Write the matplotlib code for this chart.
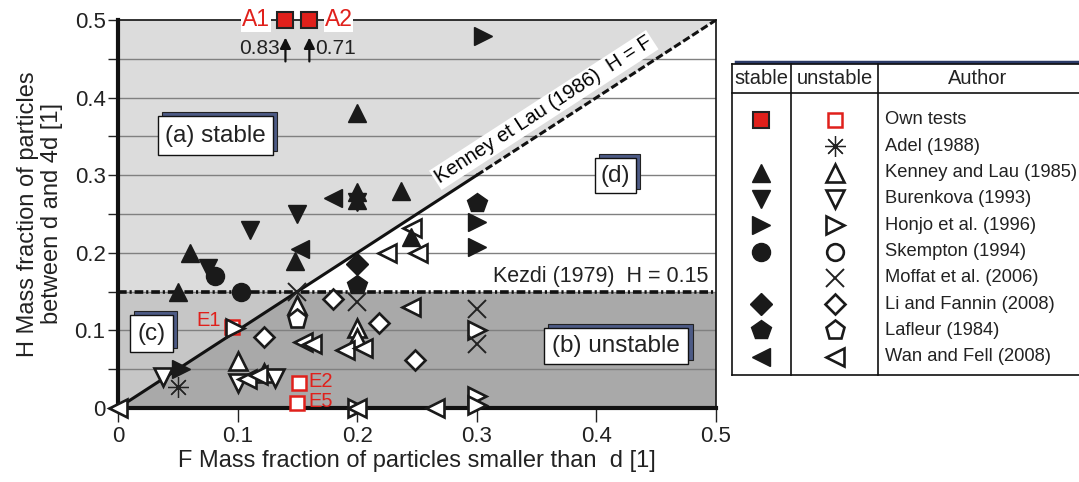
import numpy as np
import matplotlib
matplotlib.use("Agg")
import matplotlib.pyplot as plt
from matplotlib.patches import Rectangle, Polygon

plt.rcParams['font.family'] = ['Liberation Sans', 'DejaVu Sans']

# ---- data (F, H) ----
own_stable_F = [0.14, 0.16]
own_stable_H = [0.83, 0.71]          # off the scale, drawn at the top edge
own_unstable_F = [0.095, 0.151, 0.150]
own_unstable_H = [0.105, 0.032, 0.006]
own_unstable_names = ["E1", "E2", "E5"]

adel_unstable_F = [0.05]
adel_unstable_H = [0.027]

kenney_stable_F = [0.20, 0.237, 0.06, 0.05, 0.148, 0.20, 0.20, 0.245]
kenney_stable_H = [0.38, 0.28, 0.20, 0.15, 0.19, 0.278, 0.268, 0.22]
kenney_unstable_F = [0.10, 0.15, 0.20, 0.20, 0.122]
kenney_unstable_H = [0.06, 0.133, 0.103, 0.09, 0.045]

burenkova_stable_F = [0.15, 0.11, 0.075, 0.20]
burenkova_stable_H = [0.25, 0.23, 0.18, 0.265]
burenkova_unstable_F = [0.038, 0.10, 0.131]
burenkova_unstable_H = [0.04, 0.032, 0.039]

honjo_stable_F = [0.305, 0.30, 0.30, 0.053]
honjo_stable_H = [0.48, 0.24, 0.207, 0.05]
honjo_unstable_F = [0.098, 0.30, 0.30, 0.30, 0.20]
honjo_unstable_H = [0.103, 0.10, 0.016, 0.004, 0.0]

skempton_stable_F = [0.081, 0.103]
skempton_stable_H = [0.17, 0.149]
skempton_unstable_F = []
skempton_unstable_H = []

moffat_unstable_F = [0.15, 0.20, 0.30, 0.30]
moffat_unstable_H = [0.15, 0.137, 0.128, 0.083]

li_stable_F = [0.20]
li_stable_H = [0.185]
li_unstable_F = [0.122, 0.18, 0.218, 0.248]
li_unstable_H = [0.092, 0.14, 0.11, 0.062]

lafleur_stable_F = [0.20, 0.30]
lafleur_stable_H = [0.158, 0.264]
lafleur_unstable_F = [0.15]
lafleur_unstable_H = [0.115]

wan_stable_F = [0.18, 0.152]
wan_stable_H = [0.27, 0.205]
wan_unstable_F = [0.0, 0.108, 0.117, 0.155, 0.162, 0.19, 0.205, 0.245,
                  0.20, 0.265, 0.225, 0.246, 0.251]
wan_unstable_H = [0.0, 0.038, 0.042, 0.085, 0.082, 0.075, 0.077, 0.13,
                  0.0, 0.0, 0.20, 0.232, 0.20]

authors = ["Own tests", "Adel (1988)", "Kenney and Lau (1985)", "Burenkova (1993)",
           "Honjo et al. (1996)", "Skempton (1994)", "Moffat et al. (2006)",
           "Li and Fannin (2008)", "Lafleur (1984)", "Wan and Fell (2008)"]

h_kezdi = 0.15
tick_vals = [0, 0.1, 0.2, 0.3, 0.4, 0.5]
tick_labels = ["0", "0.1", "0.2", "0.3", "0.4", "0.5"]

RED = "#e0201b"

markers = {
    "Own tests": ("s", 10.5),
    "Adel (1988)": ((8, 2, 0), 15),
    "Kenney and Lau (1985)": ("^", 13.5),
    "Burenkova (1993)": ("v", 13.5),
    "Honjo et al. (1996)": (">", 13.5),
    "Skempton (1994)": ("o", 13),
    "Moffat et al. (2006)": ("x", 13),
    "Li and Fannin (2008)": ("D", 11),
    "Lafleur (1984)": ("p", 15),
    "Wan and Fell (2008)": ("<", 13.5),
}

series = {
    "Own tests": (None, None, own_unstable_F, own_unstable_H),
    "Adel (1988)": (None, None, adel_unstable_F, adel_unstable_H),
    "Kenney and Lau (1985)": (kenney_stable_F, kenney_stable_H, kenney_unstable_F, kenney_unstable_H),
    "Burenkova (1993)": (burenkova_stable_F, burenkova_stable_H, burenkova_unstable_F, burenkova_unstable_H),
    "Honjo et al. (1996)": (honjo_stable_F, honjo_stable_H, honjo_unstable_F, honjo_unstable_H),
    "Skempton (1994)": (skempton_stable_F, skempton_stable_H, skempton_unstable_F, skempton_unstable_H),
    "Moffat et al. (2006)": (None, None, moffat_unstable_F, moffat_unstable_H),
    "Li and Fannin (2008)": (li_stable_F, li_stable_H, li_unstable_F, li_unstable_H),
    "Lafleur (1984)": (lafleur_stable_F, lafleur_stable_H, lafleur_unstable_F, lafleur_unstable_H),
    "Wan and Fell (2008)": (wan_stable_F, wan_stable_H, wan_unstable_F, wan_unstable_H),
}


def style(author, stable):
    m, ms = markers[author]
    if author == "Own tests":
        if stable:
            return dict(marker=m, ms=ms + 1, mfc=RED, mec="#222222", mew=1.5, ls="none")
        return dict(marker=m, ms=ms, mfc="white", mec=RED, mew=1.8, ls="none")
    if m in ("x",) or isinstance(m, tuple):
        return dict(marker=m, ms=ms, mec="#222222", mew=1.4 if m == "x" else 0.9, ls="none")
    if stable:
        return dict(marker=m, ms=ms, mfc="#1a1a1a", mec="#1a1a1a", mew=1, ls="none")
    return dict(marker=m, ms=ms - 1, mfc="white", mec="#1a1a1a", mew=1.9, ls="none")


fig = plt.figure(figsize=(10.79, 4.82), dpi=100)
ax = fig.add_axes([118 / 1079, 1 - 408 / 482, 598 / 1079, 388 / 482])
ax.set_xlim(0, 0.5)
ax.set_ylim(0, 0.5)

# regions
ax.add_patch(Polygon([(0, h_kezdi), (h_kezdi, h_kezdi), (0.5, 0.5), (0, 0.5)],
                     fc="#dcdcdc", ec="none", zorder=0))
ax.add_patch(Polygon([(0, 0), (h_kezdi, h_kezdi), (0, h_kezdi)],
                     fc="#c6c6c6", ec="none", zorder=0))
ax.add_patch(Polygon([(0, 0), (0.5, 0), (0.5, h_kezdi), (h_kezdi, h_kezdi)],
                     fc="#a9a9a9", ec="none", zorder=0))
for yg in np.arange(0.05, 0.49, 0.05):
    ax.axhline(yg, color="#808080", lw=1, zorder=1)

# criteria lines
ax.plot([0, 0.3], [0, 0.3], color="#111111", lw=2.2, zorder=3)
ax.plot([0.3, 0.5], [0.3, 0.5], color="#111111", lw=2.2, ls=(0, (2.5, 1.0)), zorder=3)
ax.plot([0, 0.5], [h_kezdi, h_kezdi], color="#111111", lw=2.6,
        ls=(0, (2.4, 0.8, 0.6, 0.8)), zorder=3)

ax.text(0.356, 0.384, "Kenney et Lau (1986)  H = F", fontsize=14.5, rotation=45,
        transform_rotates_text=True, rotation_mode="anchor", ha="center", va="center",
        bbox=dict(fc="white", ec="none", pad=1.5), zorder=4)
ax.text(0.494, 0.169, "Kezdi (1979)  H = 0.15", fontsize=15.5, ha="right", va="center",
        color="#222222", zorder=4)


def label_box(x0, y0, x1, y1, text, fs):
    dx, dy = 0.0035, 0.005
    ax.add_patch(Rectangle((x0 + dx, y0 + dy), x1 - x0, y1 - y0, fc="#4d5b86",
                           ec="#222222", lw=0.8, zorder=4))
    ax.add_patch(Rectangle((x0, y0), x1 - x0, y1 - y0, fc="white", ec="#111111",
                           lw=1, zorder=4))
    ax.text((x0 + x1) / 2, (y0 + y1) / 2, text, fontsize=fs, ha="center", va="center",
            color="#222222", zorder=5)


label_box(0.0334, 0.326, 0.1296, 0.376, "(a) stable", 17.5)
label_box(0.356, 0.057, 0.477, 0.103, "(b) unstable", 17.5)
label_box(0.010, 0.072, 0.046, 0.120, "(c)", 17.5)
label_box(0.399, 0.277, 0.433, 0.322, "(d)", 17.5)

# data
for author in authors:
    sF, sH, uF, uH = series[author]
    if uF:
        ax.plot(uF, uH, clip_on=False, zorder=6, **style(author, False))
    if sF:
        ax.plot(sF, sH, clip_on=False, zorder=7, **style(author, True))

# own stable tests: off scale, drawn on the top edge
ax.plot(own_stable_F, np.minimum(own_stable_H, 0.5), clip_on=False, zorder=8,
        **style("Own tests", True))
ax.text(own_stable_F[0] - 0.013, 0.5, "A1", color=RED, fontsize=16.5, ha="right", va="center",
        bbox=dict(fc="white", ec="none", pad=0.5), zorder=8, clip_on=False)
ax.text(own_stable_F[1] + 0.013, 0.5, "A2", color=RED, fontsize=16.5, ha="left", va="center",
        bbox=dict(fc="white", ec="none", pad=0.5), zorder=8, clip_on=False)
for fx, hv, side in zip(own_stable_F, own_stable_H, ["right", "left"]):
    ax.annotate("", xy=(fx, 0.481), xytext=(fx, 0.443),
                arrowprops=dict(arrowstyle="-|>", color="#111111", lw=1.6, mutation_scale=16),
                zorder=8)
    off = -0.005 if side == "right" else 0.005
    ax.text(fx + off, 0.463, f"{hv:.2f}", fontsize=15, ha=side, va="center", color="#222222")

label_pos = [(0.086, 0.113, "right"), (0.159, 0.034, "left"), (0.159, 0.008, "left")]
for name, (tx, ty, ha) in zip(own_unstable_names, label_pos):
    ax.text(tx, ty, name, color=RED, fontsize=14.5, ha=ha, va="center", zorder=8)

# axes styling
ax.set_xticks(tick_vals)
ax.set_xticklabels(tick_labels)
ax.set_yticks(tick_vals)
ax.set_yticklabels(tick_labels)
ax.set_yticks(np.arange(0.05, 0.5, 0.1), minor=True)
ax.tick_params(axis="x", direction="out", length=10, width=1, labelsize=16, pad=3,
               colors="#222222")
ax.tick_params(axis="y", which="both", direction="out", length=7, width=1, labelsize=16,
               pad=2, colors="#222222")
for side, lw in (("left", 3), ("bottom", 3), ("top", 1.2), ("right", 1.2)):
    ax.spines[side].set_linewidth(lw)
    ax.spines[side].set_color("#111111")
    ax.spines[side].set_zorder(5)

ax.set_xlabel("F Mass fraction of particles smaller than  d [1]", fontsize=17,
              color="#222222", labelpad=2)
fig.text(40 / 1079, 1 - 214 / 482, "H Mass fraction of particles\nbetween d and 4d [1]",
         rotation=90, ha="center", va="center", multialignment="center", fontsize=17,
         color="#222222", linespacing=1.1)

# ---- legend table (pixel coordinates) ----
lg = fig.add_axes([0, 0, 1, 1])
lg.set_xlim(0, 1079)
lg.set_ylim(482, 0)
lg.axis("off")

top, head, bottom = 64, 93, 375
left, c1, c2, right = 732, 791, 878, 1079
lg.plot([736, right], [61.5, 61.5], color="#2b3a67", lw=2.5)
lg.plot([left, right], [top, top], color="#111111", lw=1.2)
lg.plot([left, right], [head, head], color="#111111", lw=1.2)
lg.plot([left, right], [bottom, bottom], color="#111111", lw=1.2)
for xv in (left, c1, c2):
    lg.plot([xv, xv], [top, bottom], color="#111111", lw=1.2)
lg.text((left + c1) / 2, 79, "stable", fontsize=14.5, ha="center", va="center", color="#222222")
lg.text((c1 + c2) / 2, 79, "unstable", fontsize=14.5, ha="center", va="center", color="#222222")
lg.text(978, 79, "Author", fontsize=14.5, ha="center", va="center", color="#222222")

for k, author in enumerate(authors):
    yrow = 120 + 26.3 * k
    sF, sH, uF, uH = series[author]
    has_stable = sF is not None or author == "Own tests"
    if has_stable:
        lg.plot([761], [yrow], **style(author, True))
    lg.plot([835], [yrow], **style(author, False))
    lg.text(885, yrow, author, fontsize=13.2, ha="left", va="center", color="#222222")

fig.savefig("out.png", dpi=100)
